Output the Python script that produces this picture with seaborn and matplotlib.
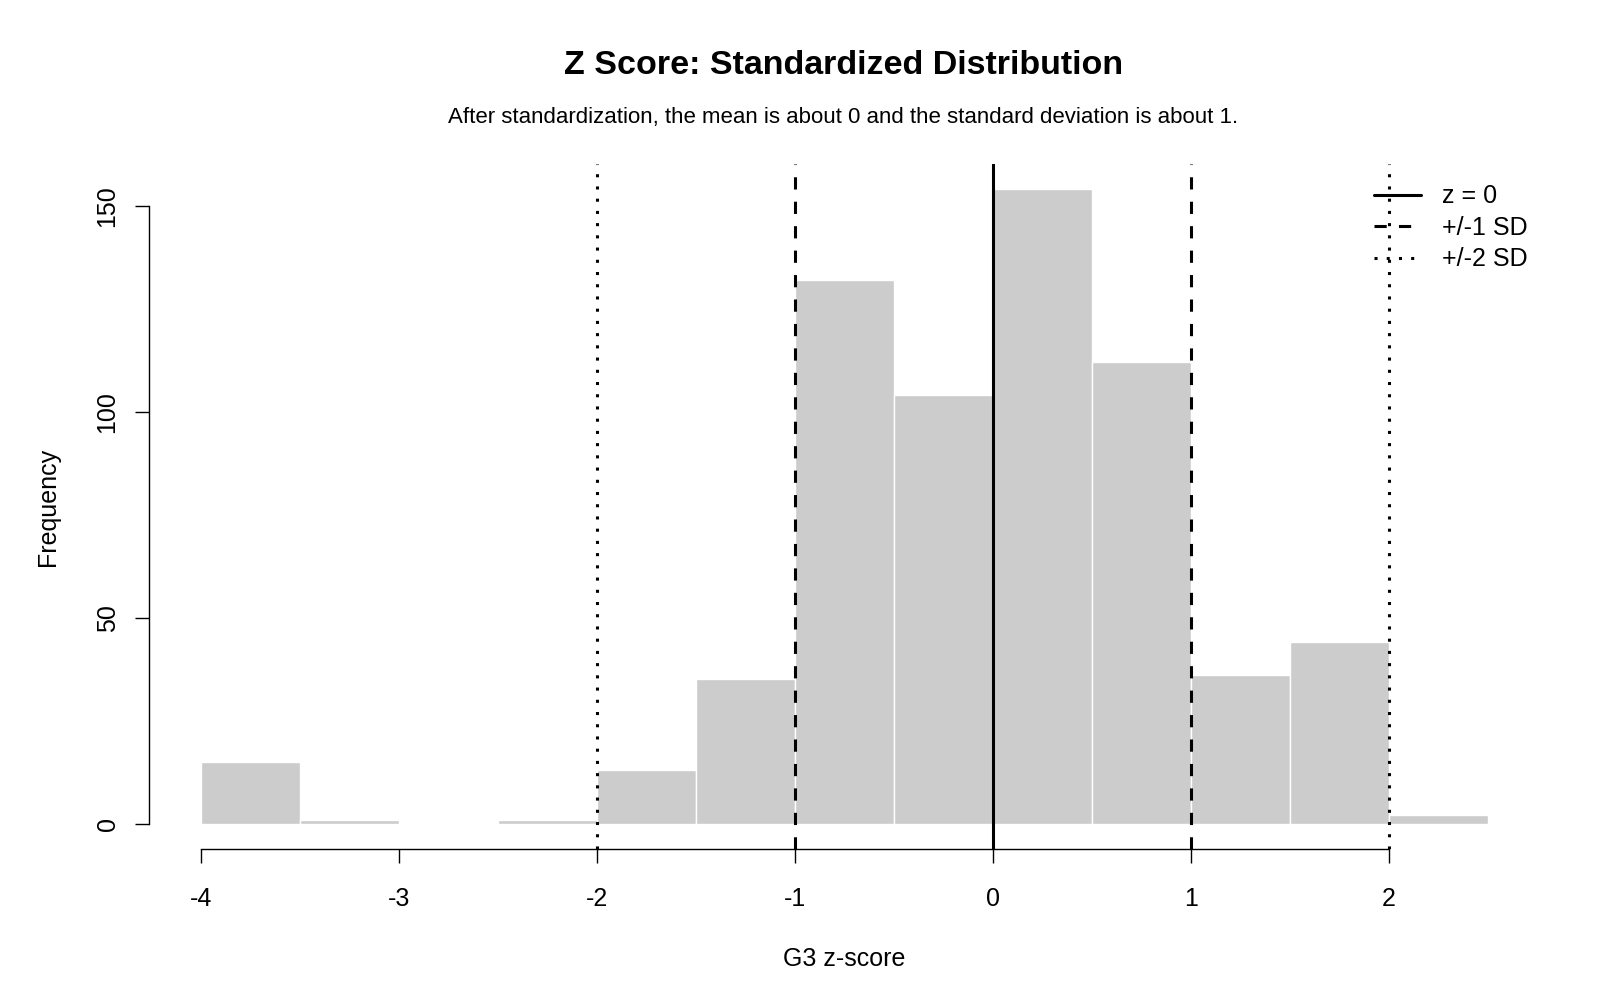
import numpy as np
import matplotlib
matplotlib.use("Agg")
from matplotlib import pyplot as plt
import seaborn as sns

# histogram bins of G3 z-score (width 0.5) and counts
bin_edges = [-4.0, -3.5, -3.0, -2.5, -2.0, -1.5, -1.0, -0.5, 0.0, 0.5, 1.0, 1.5, 2.0, 2.5]
counts = [15, 1, 0, 1, 13, 35, 132, 104, 154, 112, 36, 44, 2]
x_ticks = [-4, -3, -2, -1, 0, 1, 2]
y_ticks = [0, 50, 100, 150]

sns.set_style("white")
plt.rcParams['font.family'] = ['Liberation Sans', 'DejaVu Sans']
plt.rcParams['text.color'] = 'black'
plt.rcParams['axes.labelcolor'] = 'black'
plt.rcParams['xtick.color'] = 'black'
plt.rcParams['ytick.color'] = 'black'

fig = plt.figure(figsize=(16, 10), dpi=100)
ax = fig.add_axes([0.0934, 0.151, 0.8686, 0.685])

mids = [(a + b) / 2 for a, b in zip(bin_edges[:-1], bin_edges[1:])]
sns.histplot(x=mids, weights=counts, bins=bin_edges, ax=ax,
             color="#CCCCCC", alpha=1, edgecolor="white", linewidth=1)

# reference lines
lw = 2.2
ax.axvline(0, color="black", lw=lw, label="z = 0")
ax.axvline(-1, color="black", lw=lw, linestyle=(0, (4, 4)), label="+/-1 SD")
ax.axvline(1, color="black", lw=lw, linestyle=(0, (4, 4)))
ax.axvline(-2, color="black", lw=lw, linestyle=(0, (1, 3)), label="+/-2 SD")
ax.axvline(2, color="black", lw=lw, linestyle=(0, (1, 3)))

ax.set_xlim(-4.26, 2.76)
ax.set_ylim(-6.16, 160.16)

# R style axes
for s in ["top", "right"]:
    ax.spines[s].set_visible(False)
ax.spines["left"].set_bounds(0, 150)
ax.spines["bottom"].set_bounds(-4, 2)
for s in ["left", "bottom"]:
    ax.spines[s].set_linewidth(1)
    ax.spines[s].set_color("black")
ax.set_xticks(x_ticks)
ax.set_xticklabels([str(t) for t in x_ticks])
ax.set_yticks(y_ticks)
ax.set_yticklabels([str(t) for t in y_ticks], rotation=90, va="center")
ax.tick_params(axis="both", direction="out", length=10, width=1, color="black",
               labelsize=18, left=True, bottom=True)
ax.tick_params(axis="x", pad=17)
ax.tick_params(axis="y", pad=11.5)

ax.set_xlabel("G3 z-score", fontsize=18, labelpad=26)
ax.set_ylabel("Frequency", fontsize=18, labelpad=25.5)

fig.text(0.527, 0.934, "Z Score: Standardized Distribution", ha="center", va="center",
         fontsize=24.5, fontweight="bold")
fig.text(0.527, 0.883, "After standardization, the mean is about 0 and the standard deviation is about 1.",
         ha="center", va="center", fontsize=16)

ax.legend(loc="upper left", frameon=False, fontsize=18, handlelength=1.88,
          handletextpad=0.82, bbox_to_anchor=(0.874, 0.985), labelspacing=0.3,
          borderaxespad=0)

fig.savefig("out.png", dpi=100)
